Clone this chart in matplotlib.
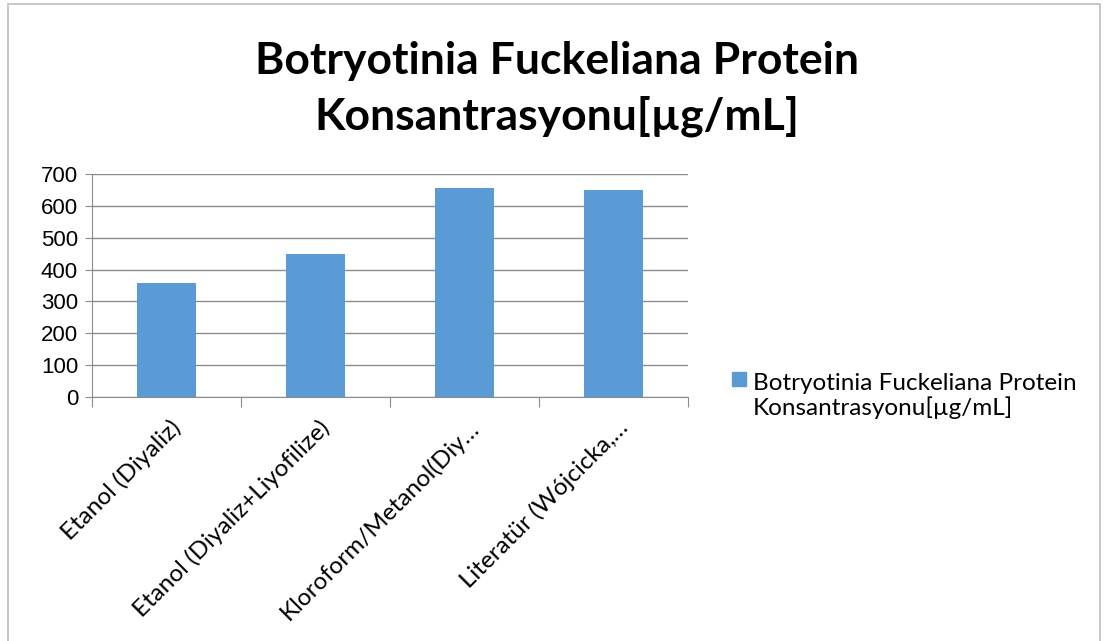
import matplotlib

matplotlib.use("Agg")

import matplotlib.pyplot as plt
from matplotlib.patches import Rectangle
from matplotlib.transforms import ScaledTranslation

categories = [
    "Etanol (Diyaliz)",
    "Etanol (Diyaliz+Liyofilize)",
    "Kloroform/Metanol(Diy\u2026",
    "Literat\u00fcr (W\u00f3jcicka,\u2026",
]
values = [358, 448, 655, 651]
y_ticks = [0, 100, 200, 300, 400, 500, 600, 700]
series_name = "Botryotinia Fuckeliana Protein\nKonsantrasyonu[\u00b5g/mL]"
title = "Botryotinia Fuckeliana Protein\nKonsantrasyonu[\u00b5g/mL]"

W, H = 1109, 641
BAR_COLOR = "#5B9BD5"
GRID = "#8C8C8C"
TEXT_FONT = ["Lato", "DejaVu Sans"]
NUM_FONT = ["Liberation Sans", "DejaVu Sans"]

fig = plt.figure(figsize=(W / 100, H / 100), dpi=100)

# chart frame
fig.patches.append(Rectangle((8 / W, -0.01), (1100 - 8) / W, 1 - 4 / H + 0.01,
                             transform=fig.transFigure, fill=False,
                             edgecolor="#BFBFBF", lw=1.2))

left, right, bottom, top = 92, 688, 397, 174
ax = fig.add_axes([left / W, 1 - bottom / H, (right - left) / W, (bottom - top) / H])

x = list(range(len(categories)))
ax.bar(x, values, width=0.4, color=BAR_COLOR, zorder=3)
ax.set_xlim(-0.5, len(categories) - 0.5)
ax.set_ylim(0, 700)
ax.set_yticks(y_ticks)
ax.set_yticklabels([str(v) for v in y_ticks], fontsize=16, family=NUM_FONT)
ax.yaxis.grid(True, color=GRID, lw=1.0, zorder=0)
ax.tick_params(axis="y", length=5, color=GRID, pad=5)

ax.set_xticks([i - 0.5 for i in range(len(categories) + 1)])
ax.set_xticklabels([])
ax.set_xticks(x, minor=True)
ax.set_xticklabels(categories, minor=True, rotation=45, ha="right",
                   rotation_mode="anchor", fontsize=17.5, family=TEXT_FONT)
ax.tick_params(axis="x", which="major", length=7, color=GRID)
ax.tick_params(axis="x", which="minor", length=0, pad=14)
shift = ScaledTranslation(3 / 100, 0, fig.dpi_scale_trans)
for lab in ax.get_xticklabels(minor=True):
    lab.set_transform(lab.get_transform() + shift)

for side in ["top", "right"]:
    ax.spines[side].set_visible(False)
for side in ["left", "bottom"]:
    ax.spines[side].set_color(GRID)

fig.text(557 / W, 1 - 89 / H, title, ha="center", va="center",
         fontsize=32, fontweight="bold", family=TEXT_FONT, linespacing=1.42)

# legend
fig.patches.append(Rectangle((732 / W, 1 - 386 / H), 14 / W, 14 / H,
                             transform=fig.transFigure, color=BAR_COLOR))
fig.text(753 / W, 1 - 396 / H, series_name, ha="left", va="center",
         fontsize=17.5, family=TEXT_FONT, linespacing=1.15)

fig.savefig("out.png", dpi=100)
